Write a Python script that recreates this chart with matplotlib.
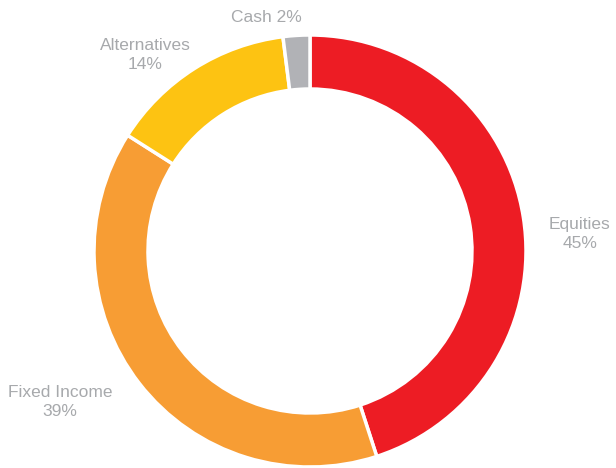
import matplotlib.pyplot as plt

# Datos del donut (sentido horario desde arriba)
categorias = ["Equities", "Fixed Income", "Alternatives", "Cash"]
valores = [45, 39, 14, 2]
colores = ["#ED1C24", "#F79D34", "#FDC312", "#B1B2B6"]

# Etiquetas: texto y posicion en pixeles (x, y desde arriba)
etiquetas = [
    ("Equities\n45%", 580, 234),
    ("Fixed Income\n39%", 60, 402),
    ("Alternatives\n14%", 145, 55),
    ("Cash 2%", 266, 17),
]

W, H = 616, 468
fig = plt.figure(figsize=(W / 100, H / 100), dpi=100)
ax = fig.add_axes([0, 0, 1, 1])

cx, cy, r = 310, H - 251, 216
ax.pie(valores, colors=colores, startangle=90, counterclock=False,
       center=(cx, cy), radius=r, frame=True,
       wedgeprops=dict(width=54, edgecolor="white", linewidth=2.5))
ax.set_xlim(0, W)
ax.set_ylim(0, H)
ax.set_aspect("equal")
ax.axis("off")

for texto, x, y in etiquetas:
    ax.text(x, H - y, texto, ha="center", va="center", fontsize=12.5,
            color="#A7A9AC", family="Liberation Sans", linespacing=1.3)

fig.savefig("out.png", dpi=100)
